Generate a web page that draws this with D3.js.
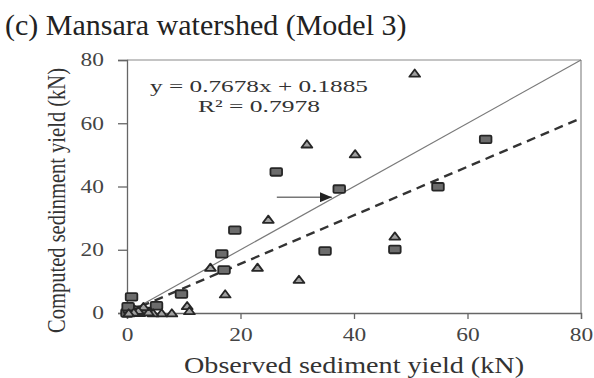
<!DOCTYPE html>
<html>
<head>
<meta charset="utf-8">
<script src="https://cdn.jsdelivr.net/npm/d3@7"></script>
<style>
  body { margin: 0; background: #fff; }
  text { font-family: "Liberation Serif", "Times New Roman", serif; }
</style>
</head>
<body>
<svg id="chart" width="594" height="378"></svg>
<script>
// Observed vs computed sediment yield, Mansara watershed (Model 3)
const titleText = "(c) Mansara watershed (Model 3)";
const xLabel = "Observed sediment yield (kN)";
const yLabel = "Computed sedinment yield (kN)";
const tickValues = [0, 20, 40, 60, 80];

// Series 1 (squares): observed, computed
const squareObs = [63.2, 54.8, 47.2, 37.4, 34.9, 26.3, 19.0, 16.7, 17.1, 9.6, 5.2, 0.8,
                   0.0, 0.4, 1.0, 1.6, 2.3, 0.2, 3.2];
const squareCmp = [54.9, 39.9, 20.1, 39.2, 19.6, 44.6, 26.2, 18.7, 13.6, 6.0, 2.3, 5.1,
                   0.0, 1.2, 0.4, 0.9, 0.2, 2.0, 0.5];

// Series 2 (triangles): observed, computed
const triObs = [50.7, 31.7, 40.2, 24.9, 14.7, 23.0, 17.3, 30.3, 47.2, 10.6, 11.0, 7.9,
                6.1, 4.6, 3.8, 2.9, 2.0, 1.2, 0.3];
const triCmp = [75.8, 53.4, 50.3, 29.6, 14.4, 14.4, 6.0, 10.6, 24.3, 2.3, 0.7, 0.0,
                0.0, 0.0, 0.3, 2.0, 0.8, 0.2, 0.0];

// Fitted regression
const slope = 0.7678, intercept = 0.1885, rSquared = 0.7978;
const equationText = `y = ${slope}x + ${intercept}`;
const r2Text = `R² = ${rSquared}`;

const svg = d3.select("#chart");
const x = d3.scaleLinear().domain([0, 80]).range([127, 581]);
const y = d3.scaleLinear().domain([0, 80]).range([313, 60]);

// widen text horizontally by factor k
function stretch(sel, k) {
  sel.each(function () {
    const len = this.getComputedTextLength();
    d3.select(this).attr("textLength", len * k).attr("lengthAdjust", "spacingAndGlyphs");
  });
}

// Title
svg.append("text")
  .attr("x", 5).attr("y", 35)
  .attr("font-size", 30).attr("fill", "#222")
  .text(titleText);

// Frame: top and right borders
svg.append("line")
  .attr("x1", x(0)).attr("x2", x(80)).attr("y1", y(80)).attr("y2", y(80))
  .attr("stroke", "#8a8a8a").attr("stroke-width", 1.2);
svg.append("line")
  .attr("x1", x(80)).attr("x2", x(80)).attr("y1", y(80)).attr("y2", y(0))
  .attr("stroke", "#8a8a8a").attr("stroke-width", 1.2);

// Axes
const gx = svg.append("g").attr("transform", `translate(0,${y(0)})`)
  .call(d3.axisBottom(x).tickValues(tickValues).tickSize(6).tickPadding(9).tickFormat(d3.format("d")));
const gy = svg.append("g").attr("transform", `translate(${x(0)},0)`)
  .call(d3.axisLeft(y).tickValues(tickValues).tickSize(9).tickPadding(14).tickFormat(d3.format("d")));
[gx, gy].forEach(g => {
  g.select(".domain").attr("stroke", "#666").attr("stroke-width", 1.3);
  g.selectAll(".tick line").attr("stroke", "#666").attr("stroke-width", 1.3);
  g.selectAll(".tick text")
    .attr("font-family", "Liberation Serif, Times New Roman, serif")
    .attr("font-size", 18).attr("fill", "#444");
  stretch(g.selectAll(".tick text"), 1.3);
});

// 1:1 line
svg.append("line")
  .attr("x1", x(0)).attr("y1", y(0)).attr("x2", x(80)).attr("y2", y(80))
  .attr("stroke", "#7a7a7a").attr("stroke-width", 1.2);

// Regression line (dashed)
svg.append("line")
  .attr("x1", x(0)).attr("y1", y(intercept))
  .attr("x2", x(80)).attr("y2", y(slope * 80 + intercept))
  .attr("stroke", "#333").attr("stroke-width", 2.4)
  .attr("stroke-dasharray", "9,6");

// Arrow annotation
const arrowStart = [26.4, 36.6], arrowEnd = [36.1, 36.6];
svg.append("defs").append("marker")
  .attr("id", "head").attr("viewBox", "0 0 12 10")
  .attr("refX", 12).attr("refY", 5)
  .attr("markerWidth", 12).attr("markerHeight", 10)
  .attr("markerUnits", "userSpaceOnUse").attr("orient", "auto")
  .append("path").attr("d", "M0,0 L12,5 L0,10 Z").attr("fill", "#222");
svg.append("line")
  .attr("x1", x(arrowStart[0])).attr("y1", y(arrowStart[1]))
  .attr("x2", x(arrowEnd[0])).attr("y2", y(arrowEnd[1]))
  .attr("stroke", "#777").attr("stroke-width", 1.3)
  .attr("marker-end", "url(#head)");

// Squares
const squares = squareObs.map((o, i) => ({ o, c: squareCmp[i] }));
svg.append("g").selectAll("rect").data(squares).join("rect")
  .attr("x", d => x(d.o) - 5.8).attr("y", d => y(d.c) - 3.8)
  .attr("width", 11.6).attr("height", 7.6).attr("rx", 1.2)
  .attr("fill", "#6c6c6c").attr("stroke", "#262626").attr("stroke-width", 1.8);

// Triangles
const tris = triObs.map((o, i) => ({ o, c: triCmp[i] }));
svg.append("g").selectAll("path").data(tris).join("path")
  .attr("d", d => `M${x(d.o) - 5.4},${y(d.c) + 3.4} L${x(d.o) + 5.4},${y(d.c) + 3.4} L${x(d.o)},${y(d.c) - 3.8} Z`)
  .attr("fill", "#a0a0a0").attr("stroke", "#262626").attr("stroke-width", 1.8)
  .attr("stroke-linejoin", "round");

// Regression equation
const eqX = 23.26;
svg.append("text")
  .attr("x", x(eqX)).attr("y", y(70.0)).attr("text-anchor", "middle")
  .attr("font-size", 17).attr("fill", "#333")
  .attr("textLength", 218).attr("lengthAdjust", "spacingAndGlyphs")
  .text(equationText);
svg.append("text")
  .attr("x", x(eqX)).attr("y", y(63.4)).attr("text-anchor", "middle")
  .attr("font-size", 17).attr("fill", "#333")
  .attr("textLength", 122).attr("lengthAdjust", "spacingAndGlyphs")
  .text(r2Text);

// Axis titles
svg.append("text")
  .attr("x", (x(0) + x(80)) / 2).attr("y", 373).attr("text-anchor", "middle")
  .attr("font-size", 23).attr("fill", "#333")
  .attr("textLength", 340).attr("lengthAdjust", "spacingAndGlyphs")
  .text(xLabel);
svg.append("text")
  .attr("transform", `translate(65,${(y(0) + y(80)) / 2 + 14}) scale(1.22,1) rotate(-90)`)
  .attr("text-anchor", "middle")
  .attr("font-size", 20.5).attr("fill", "#333")
  .attr("textLength", 265).attr("lengthAdjust", "spacingAndGlyphs")
  .text(yLabel);
</script>
</body>
</html>
